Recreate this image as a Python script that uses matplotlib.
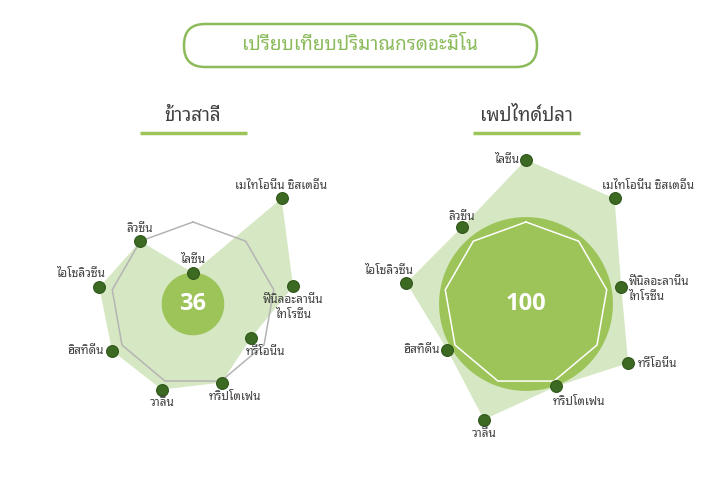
import matplotlib

matplotlib.use("Agg")
import matplotlib.pyplot as plt  # noqa: E402
import numpy as np  # noqa: E402
from matplotlib.patches import FancyBboxPatch  # noqa: E402

plt.rcParams["font.family"] = ["Noto Sans Thai Looped", "Noto Sans", "DejaVu Sans"]

# --- data ---
TITLE = "เปรียบเทียบปริมาณกรดอะมิโน"
AMINO = [
    "ไลซีน",
    "เมไทโอนีน ซิสเตอีน",
    "ฟีนิลอะลานีน\nไทโรซีน",
    "ทรีโอนีน",
    "ทริปโตเฟน",
    "วาลีน",
    "ฮิสทิดีน",
    "ไอโซลิวซีน",
    "ลิวซีน",
]
PANELS = ["ข้าวสาลี", "เพปไทด์ปลา"]
WHEAT = [38, 168, 124, 82, 102, 111, 114, 116, 100]
FISH = [176, 168, 118, 144, 107, 150, 111, 148, 122]
SCORES = [36, 100]
REFERENCE = [100] * len(AMINO)

# --- styling ---
FILL = "#d6e7c3"
CIRCLE = "#9cc459"
DOT = "#3c6a22"
TXT = "#404040"
TITLE_GREEN = "#8cbb5c"
RMAX = 200
CIRCLE_SCALE = 1.06  # score circle radius relative to the 100-level ring

# label offsets in pixels (dx, dy, ha) per axis, one list per panel
LABEL_POS = [
    [(0, 13, "center"), (0, 13, "center"), (0, -21, "center"), (14, -14, "center"),
     (13, -14, "center"), (0, -13, "center"), (-8, 0, "right"), (-19, 14, "center"),
     (0, 13, "center")],
    [(-7, 0, "right"), (-13, 13, "left"), (7, -2, "left"), (9, 0, "left"),
     (23, -15, "center"), (0, -14, "center"), (-7, 0, "right"), (-18, 12, "center"),
     (0, 11, "center")],
]
RING_COLOR = ["#b4b4b4", "white"]
CENTERS = [(193, 304), (526, 304)]  # pixel centres of the two radars
RADIUS_PX = 164

fig = plt.figure(figsize=(7.2, 4.8), dpi=100)

# decoration layer in pixel coordinates
deco = fig.add_axes([0, 0, 1, 1])
deco.set_xlim(0, 720)
deco.set_ylim(480, 0)
deco.axis("off")
deco.add_patch(FancyBboxPatch((184, 24), 353, 43, boxstyle="round,pad=0,rounding_size=21",
                              fc="white", ec=TITLE_GREEN, lw=1.8))
deco.text(360, 45, TITLE, ha="center", va="center", fontsize=13.7, color=TITLE_GREEN)
for (cx, _), name in zip(CENTERS, PANELS):
    deco.text(cx, 116, name, ha="center", va="center", fontsize=13.5, color=TXT)
    deco.plot([cx - 53, cx + 54], [133, 133], color=CIRCLE, lw=2.5, solid_capstyle="butt")

theta = np.linspace(0, 2 * np.pi, len(AMINO), endpoint=False)
circ_t = np.linspace(0, 2 * np.pi, 200)

for k, (values, score) in enumerate(zip([WHEAT, FISH], SCORES)):
    cx, cy = CENTERS[k]
    ax = fig.add_axes([(cx - RADIUS_PX) / 720, (480 - cy - RADIUS_PX) / 480,
                       2 * RADIUS_PX / 720, 2 * RADIUS_PX / 480], projection="polar")
    ax.set_theta_zero_location("N")
    ax.set_theta_direction(-1)
    ax.set_ylim(0, RMAX)
    ax.axis("off")
    ax.patch.set_alpha(0)

    t_closed = np.append(theta, theta[0])
    v_closed = np.append(values, values[0])
    ax.fill(t_closed, v_closed, color=FILL, lw=0, zorder=1)
    ax.fill(circ_t, np.full_like(circ_t, score * CIRCLE_SCALE), color=CIRCLE, lw=0, zorder=2)
    ref_closed = np.append(REFERENCE, REFERENCE[0])
    ax.plot(t_closed, ref_closed, color=RING_COLOR[k], lw=1.1, zorder=3)
    ax.plot(theta, values, "o", ms=8.5, color=DOT, mec="#2f561a", mew=0.8, zorder=4,
            clip_on=False)
    ax.text(0, 0, str(score), ha="center", va="center", fontsize=17, fontweight="bold",
            color="white", family="Open Sans", zorder=5)

    for t, v, lab, (dx, dy, ha) in zip(theta, values, AMINO, LABEL_POS[k]):
        ax.annotate(lab, (t, v), xytext=(dx, dy), textcoords="offset pixels",
                    ha=ha, va="center", multialignment=ha,
                    fontsize=8.5, color=TXT, zorder=6, annotation_clip=False)

fig.savefig("out.png", dpi=100)
